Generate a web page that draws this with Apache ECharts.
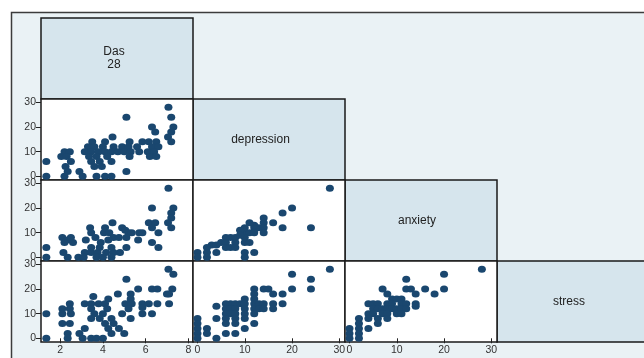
<!DOCTYPE html>
<html><head><meta charset="utf-8">
<script src="https://cdn.jsdelivr.net/npm/echarts@6/dist/echarts.min.js"></script>
<style>html,body{margin:0;padding:0;background:#fff}#c{width:644px;height:358px}</style>
</head><body><div id="c"></div>
<script>
// variable names (diagonal)
const varLabels = ['Das\n28', 'depression', 'anxiety', 'stress'];
// tick labels
const dasTicks = [2, 4, 6, 8];
const scaleTicks = [0, 10, 20, 30];
// panel data: [x, y]
const dasDep = [[7.07,28],[7.2,24],[5.1,24],[6.3,20],[6.45,18],[7.3,20],[7.2,18],[7.05,16],[7.2,14],
 [4.45,16],[3.5,14],[4.1,14],[5.85,14],[6.15,14],[6.5,14],[5.25,14],
 [3.3,12],[3.6,12],[4.0,12],[4.5,12],[4.9,12],[5.2,12],[5.6,12],[6.3,12],[6.6,12],
 [3.15,10],[3.45,10],[3.8,10],[4.1,10],[4.4,10],[4.7,10],[5.0,10],[5.3,10],[5.7,10],[6.1,10],[6.4,10],
 [3.35,8],[3.7,8],[4.2,8],[5.25,8],[6.2,8],[6.5,8],
 [3.45,6],[3.85,6],[4.4,6],[3.6,4],[3.95,4],[2.9,2],[5.1,2],
 [1.35,0],[2.2,0],[3.05,0],[3.7,0],[4.1,0],[4.4,0],
 [1.35,6],[2.2,10],[2.45,10],[2.05,8],[2.3,8],[2.5,6],[2.25,4],[2.35,2]];
const dasAnx = [[7.07,28],[6.3,20],[7.3,20],[7.2,18],[7.2,16],[4.45,14],[6.15,14],[6.45,14],[7.05,14],[7.2,12],[6.3,12],[6.6,10],
 [3.4,12],[3.45,10],[3.65,8],[3.2,7],[4.05,10],[4.1,12],[4.3,10],[4.5,8],[4.9,12],[5.05,11],[5.2,10],[5.35,10],[5.7,10],[5.85,10],
 [3.9,6],[4.25,7],[4.75,8],[5.1,8],
 [2.1,8],[2.35,7],[2.2,6],[2.6,6],[2.5,8],[1.35,4],[2.15,2],[2.35,0],[1.35,0],
 [3.15,2],[3.45,2],[3.75,2],[4.15,2],[4.5,2],[4.8,2],
 [2.85,0],[3.1,0],[3.7,0],[4.0,0],[4.4,0],
 [5.1,4],[5.65,7],[6.3,6],[6.6,4],[4.4,4],[3.85,4],[3.45,4]];
const dasStr = [[7.07,28],[7.3,26],[5.1,24],[5.65,20],[6.3,20],[6.55,20],[7.25,20],[7.1,18],[7.0,18],[4.7,18],[5.3,18],[3.55,17],[4.25,16],[5.3,16],
 [2.45,14],[3.15,14],[3.45,14],[3.8,14],[4.1,14],[5.05,14],[5.35,14],[5.85,14],[6.15,14],[6.55,14],[7.1,14],
 [2.1,12],[2.45,12],[3.45,12],[4.2,12],[5.2,12],[5.85,12.5],
 [1.35,10],[2.1,10],[2.5,10],[3.6,10],[4.0,10],[4.9,10],[5.85,10],[6.3,10],
 [3.45,8],[3.85,8],[4.4,8],[5.3,8],
 [2.1,6],[2.45,6],[4.1,6],[4.5,6],
 [3.15,4],[4.25,4],[4.75,4],
 [2.35,2],[2.9,2],[4.4,2],[5.0,2],
 [1.35,0],[2.35,0],[3.05,0],[3.45,0],[3.7,0],[4.0,0]];
const depAnx = [[28,28],[20,20],[18,18],[24,12],[18,12],[14,16],[14,14],[16,14],[12,12],[13,12],[14,12],[12,13],[11,14],
 [10,10],[11,10],[12,10],[14,10],[10,12],[9,11],
 [6,8],[7,8],[8,8],[10,8],[9,9],
 [5,6],[6,6],[8,6],[10,6],[11,6],
 [3,5],[4,5],[6,4],[7,4],[8,4],
 [2,4],[4,2],[0,2],[2,2],[0,0],[2,0],[10,2],[10,0],[12,2]];
const depStr = [[28,28],[20,26],[24,24],[24,20],[20,20],[12,20],[14,20],[15,20],[16,18],[18,18],[12,18],[10,16],[12,16],
 [6,14],[7,14],[8,14],[9,14],[10,14],[12,14],[13,14],[14,14],[16,14],[18,14],[4,13],
 [6,12],[7,12],[8,12],[10,12],[12,12],[13,12],[14,12],[16,12],
 [6,10],[7,10],[8,10],[10,10],[12,10],
 [4,8],[6,8],[8,8],[10,8],
 [6,6],[8,6],[12,6],
 [10,4],[6,2],[8,2],
 [0,8],[0,6],[0,4],[0,2],[0,0],[2,4],[2,2],[4,0]];
const anxStr = [[28,28],[20,26],[20,20],[12,24],[12,20],[13,20],[16,20],[18,18],[7,20],[8,18],[14,18],[14,14],[14,13],
 [9,16],[10,16],[11,16],
 [4,14],[5,14],[6,14],[8,14],[9,14],[11,14],[12,14],
 [5,12],[6,12],[7,12],[8,12],[9,12],[10,12],[11,12],[12,12],
 [4,10],[5,10],[7,10],[8,10],[10,10],[11,10],
 [2,8],[4,8],[6,8],[8,8],
 [2,6],[6,6],
 [0,4],[2,4],[4,4],
 [0,2],[2,2],[0,0],[2,0]];

const colL = [41, 193, 345, 497], rowT = [18, 99, 180, 261], CW = 152, CH = 81;
const FONT = '"Liberation Sans", Arial, sans-serif';
// panels: [col, row, data, xKind]
const panels = [
  [0, 1, dasDep, 'das'], [0, 2, dasAnx, 'das'], [1, 2, depAnx, 'sc'],
  [0, 3, dasStr, 'das'], [1, 3, depStr, 'sc'], [2, 3, anxStr, 'sc']
];
const grids = [], xAxes = [], yAxes = [], series = [];
panels.forEach((p, i) => {
  const [c, r, data, kind] = p;
  grids.push({left: colL[c], top: rowT[r], width: CW, height: CH, show: true,
    backgroundColor: '#fff', borderColor: '#1a1a1a', borderWidth: 1.5, z: 5});
  const showX = r === 3, showY = c === 0;
  const xt = kind === 'das' ? dasTicks : scaleTicks;
  xAxes.push({type: 'value', gridIndex: i, z: 6,
    min: kind === 'das' ? 1.1 : -0.95, max: kind === 'das' ? 8.22 : 31.2,
    show: showX, axisLine: {show: false}, splitLine: {show: false},
    axisTick: {show: true, length: 5, lineStyle: {color: '#222'}, customValues: xt},
    axisLabel: {customValues: xt, fontSize: 10.5, color: '#333', margin: 3, fontFamily: FONT}});
  yAxes.push({type: 'value', gridIndex: i, z: 6, min: -1.5, max: 31.4,
    show: showY, axisLine: {show: false}, splitLine: {show: false},
    axisTick: {show: true, length: 5, lineStyle: {color: '#222'}, customValues: scaleTicks},
    axisLabel: {customValues: scaleTicks, fontSize: 10.5, color: '#333', margin: 5, fontFamily: FONT}});
  series.push({type: 'scatter', xAxisIndex: i, yAxisIndex: i, data: data, z: 7,
    symbol: 'circle', symbolSize: [8, 7], itemStyle: {color: '#1a476f', opacity: 1},
    emphasis: {disabled: true}, animation: false});
});
const labelCx = [114, 260.5, 417, 569];
const graphic = [
  {type: 'rect', z: -10, shape: {x: 11.5, y: 12.5, width: 700, height: 400},
    style: {fill: '#eaf2f5', stroke: '#3c3c3c', lineWidth: 1.5}}
];
for (let k = 0; k < 4; k++) {
  graphic.push({type: 'rect', z: -5, shape: {x: colL[k], y: rowT[k], width: CW, height: CH},
    style: {fill: '#d6e5ed', stroke: '#1a1a1a', lineWidth: 1.5}});
  graphic.push({type: 'text', z: 10, x: labelCx[k], y: rowT[k] + CH / 2,
    style: {text: varLabels[k], textAlign: 'center', textVerticalAlign: 'middle',
      font: '12px ' + FONT, fill: '#222', lineHeight: 13}});
}
const chart = echarts.init(document.getElementById('c'), null, {renderer: 'canvas'});
chart.setOption({animation: false, backgroundColor: '#fff', graphic: graphic,
  grid: grids, xAxis: xAxes, yAxis: yAxes, series: series});
</script></body></html>
